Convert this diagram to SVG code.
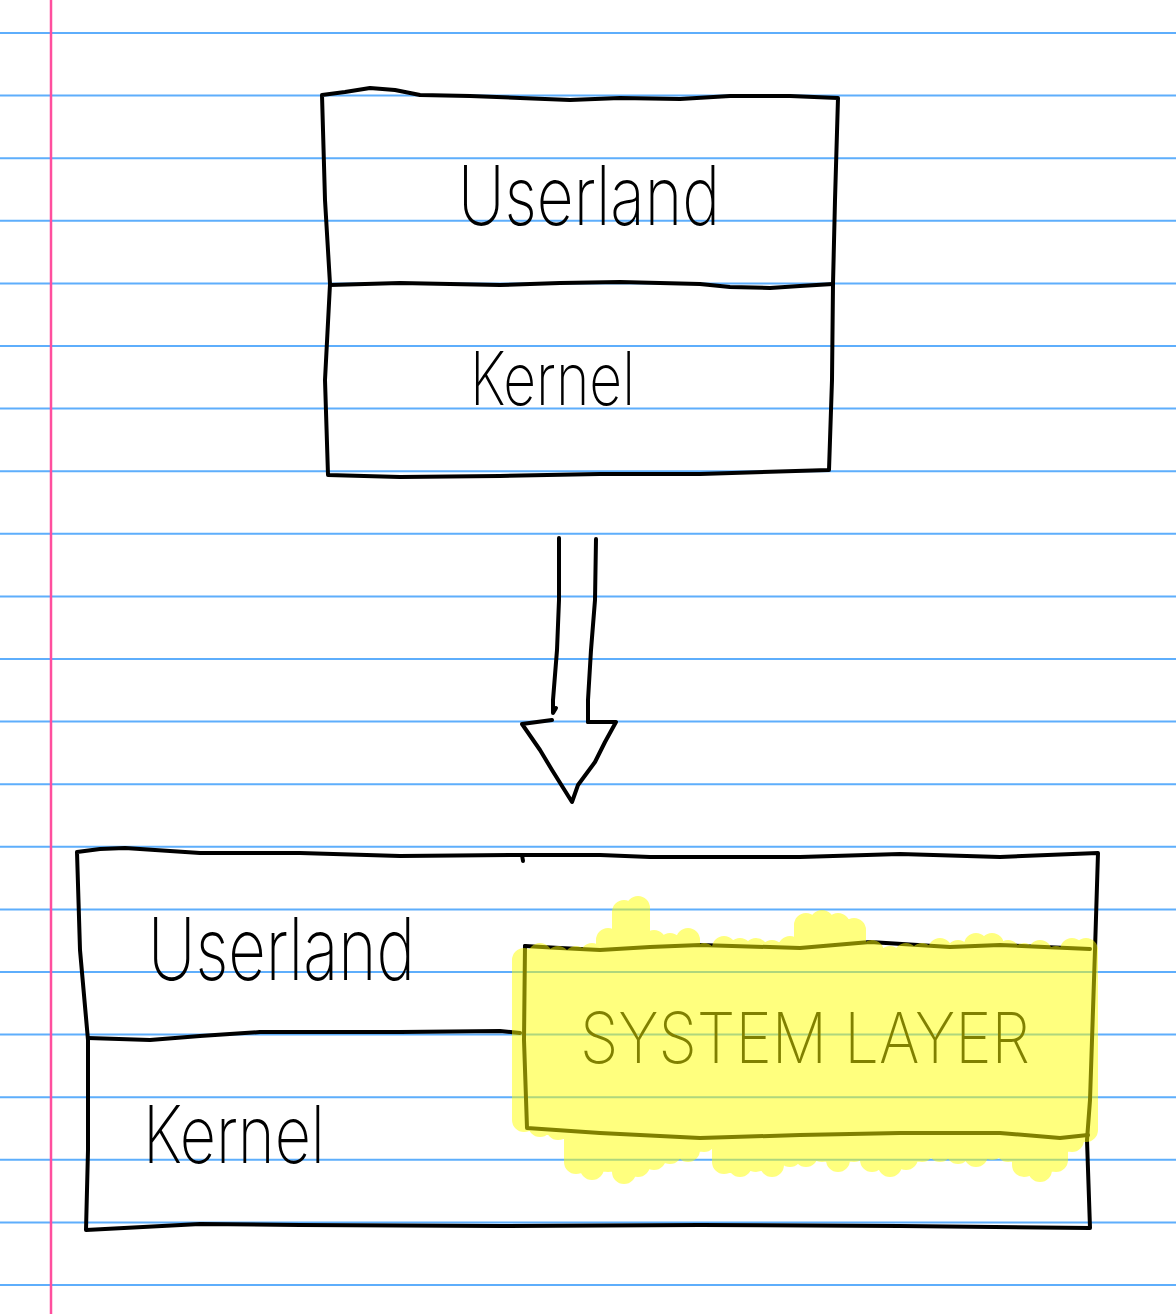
<svg xmlns="http://www.w3.org/2000/svg" width="1176" height="1314" viewBox="0 0 1176 1314">
<defs>
<style>
.rule{stroke:#5eaefc;stroke-width:2;fill:none}
.ink{stroke:#000;stroke-width:4;fill:none;stroke-linecap:round;stroke-linejoin:round}
.hand{font-family:Inter,"Liberation Sans",sans-serif;font-weight:200;fill:#000}
.hl{stroke:#ffff00;stroke-width:24;stroke-linecap:round;fill:none}
</style>
</defs>
<rect width="1176" height="1314" fill="#fff"/>
<g id="paper">
<path class="rule" d="M0 33H1176M0 95.6H1176M0 158.2H1176M0 220.8H1176M0 283.4H1176M0 346H1176M0 408.6H1176M0 471.2H1176M0 533.8H1176M0 596.4H1176M0 659H1176M0 721.6H1176M0 784.2H1176M0 846.8H1176M0 909.4H1176M0 972H1176M0 1034.6H1176M0 1097.2H1176M0 1159.8H1176M0 1222.4H1176M0 1285H1176"/>
<line x1="51" y1="0" x2="51" y2="1314" stroke="#ff4f9e" stroke-width="2.5"/>
</g>
<g id="node-top">
<path class="ink" d="M322 95 L345 92 L370 88 L395 90 L420 95 L470 96 L520 98 L570 100 L620 98 L680 99 L730 96 L790 96 L838 98 L835 200 L833 284 L832 380 L829 470 L700 474 L600 474 L500 476 L400 477 L328 475 L325 380 L330 284 L325 200 Z"/>
<path class="ink" d="M330 285 L400 283 L500 285 L560 283 L620 282 L700 284 L730 287 L770 288 L800 286 L833 284"/>
<text class="hand" x="458" y="225" font-size="82" textLength="262" lengthAdjust="spacingAndGlyphs">Userland</text>
<text class="hand" x="470" y="405" font-size="74" textLength="165" lengthAdjust="spacingAndGlyphs">Kernel</text>
</g>
<g id="connectors">
<path class="ink" d="M559 538 L559 600 L557 650 L553 700 L553 713 L556 708"/>
<path class="ink" d="M596 539 L595 600 L591 650 L588 700 L588 722"/>
<path class="ink" d="M552 720 L522 724 L540 750 L552 770 L572 802 L578 785 L595 762 L605 742 L616 722 L588 722"/>
</g>
<g id="node-bottom">
<path class="ink" d="M77 852 L100 849 L125 848 L200 853 L300 853 L400 856 L520 855 L600 855 L650 857 L700 857 L800 857 L900 854 L1000 857 L1098 853 L1095 950 L1090 1100 L1087 1140 L1090 1228 L900 1226 L700 1225 L500 1226 L300 1225 L200 1224 L86 1230 L88 1150 L88 1040 L80 950 Z"/>
<path class="ink" d="M522 855 L523 861"/>
<path class="ink" d="M88 1038 L150 1040 L200 1036 L260 1032 L400 1032 L500 1031 L520 1033"/>
<text class="hand" x="148" y="980" font-size="86" textLength="267" lengthAdjust="spacingAndGlyphs">Userland</text>
<text class="hand" x="143" y="1163" font-size="80" textLength="182" lengthAdjust="spacingAndGlyphs">Kernel</text>
</g>
<g id="system-layer">
<path class="ink" d="M525 946 L560 948 L600 950 L650 947 L700 945 L800 948 L870 942 L950 947 L1000 945 L1090 949"/>
<path class="ink" d="M525 946 L524 1040 L527 1128 L600 1133 L700 1138 L800 1135 L900 1133 L1000 1133 L1060 1138 L1088 1135"/>
<text class="hand" x="580" y="1063" font-size="70" textLength="450" lengthAdjust="spacingAndGlyphs">SYSTEM LAYER</text>
<g opacity="0.5">
<rect x="525" y="960" width="565" height="170" fill="#ffff00"/>
<path class="hl" d="M524 960V1120M540 955V1125M558 958V1128M576 958V1162M592 955V1168M608 940V1160M624 912V1172M638 908V1165M654 942V1158M670 945V1152M688 940V1150M704 955V1140M724 948V1162M740 950V1165M756 950V1160M772 952V1165M790 948V1155M806 925V1155M822 922V1150M838 925V1160M854 930V1150M872 952V1160M890 958V1165M906 955V1158M922 955V1150M940 950V1150M958 952V1152M976 945V1155M992 945V1148M1008 952V1150M1024 955V1165M1040 952V1170M1056 958V1160M1072 950V1140M1086 950V1130"/>
</g>
</g>
</svg>
